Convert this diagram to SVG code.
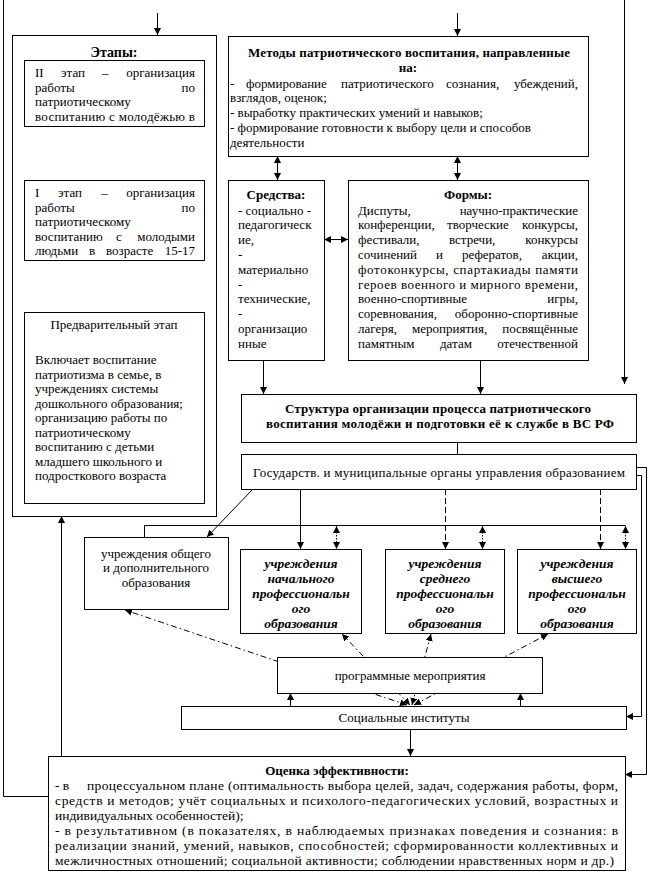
<svg xmlns="http://www.w3.org/2000/svg" width="650" height="879" viewBox="0 0 650 879">
<defs>
<style>
.b{fill:#fff;stroke:#000;stroke-width:1}
.l{fill:none;stroke:#000;stroke-width:1}
.dash{stroke-dasharray:6,3}
.dot{stroke-dasharray:1.5,1.5}
.dd{stroke-dasharray:6,3,1.5,3}
.ae{marker-end:url(#a)}
.ab{marker-start:url(#a);marker-end:url(#a)}
text{font-family:"Liberation Serif","Times New Roman",serif;font-size:13px;fill:#000}
.t{font-weight:bold}
.bi{font-weight:bold;font-style:italic;font-size:13.5px;text-anchor:middle}
.m{text-anchor:middle}
.e{text-anchor:end}
.o{font-size:13.5px}
</style>
<marker id="a" viewBox="0 0 10 10" refX="10" refY="5" markerWidth="7" markerHeight="7" markerUnits="userSpaceOnUse" orient="auto-start-reverse"><path d="M0,0 L10,5 L0,10 z" fill="#000"/></marker>
</defs>
<rect width="650" height="879" fill="#fff"/>

<g id="connectors">
<path class="l" d="M3.5,0 V796.5 H48"/>
<path class="l ae" d="M157.5,13 V35"/>
<path class="l ae" d="M457.5,13 V36"/>
<path class="l ae" d="M624.5,0 V384"/>
<path class="l ae" d="M108.5,180 V126"/>
<path class="l ae" d="M108.5,312 V260"/>
<path class="l ab" d="M277.5,156 V180"/>
<path class="l ab" d="M457.5,156 V180"/>
<path class="l ab" d="M324,239.5 H348"/>
<path class="l ae" d="M263.5,360 V394"/>
<path class="l ae" d="M480.5,360 V394"/>
<path class="l" d="M457.5,442 V454"/>
<path class="l ae" d="M252,490 L207,537"/>
<path class="l ae" d="M300.5,489 V549"/>
<path class="l dash ae" d="M445.5,489 V549"/>
<path class="l dash ae" d="M600.5,489 V549"/>
<path class="l" d="M144.5,537 V525.5 H625.5"/>
<path class="l dot ab" d="M336.5,526 V549"/>
<path class="l dot ab" d="M482.5,526 V549"/>
<path class="l dot ab" d="M625.5,526 V549"/>
<path class="l dd ab" d="M407,705 L125,610"/>
<path class="l dd ab" d="M410,705 L342,634"/>
<path class="l dd ab" d="M412,705 L431,634"/>
<path class="l dd ab" d="M414,705 L548,634"/>
<path class="l ae" d="M290.5,706 V693"/>
<path class="l ae" d="M520.5,706 V693"/>
<path class="l ae" d="M410.5,729 V756"/>
<path class="l ae" d="M636,467.5 H646.5 V774.5 H625"/>
<path class="l ae" d="M636,475.5 H641.5 V716.5 H626"/>
<path class="l ae" d="M61.5,756 V516"/>
</g>

<g id="etapy">
<rect class="b" x="12.5" y="35.5" width="204" height="481"/>
<text class="t m" x="114" y="57" style="font-size:14px">Этапы:</text>
</g>

<g id="etap2">
<rect class="b" x="24.5" y="60.5" width="180" height="66"/>
<text x="35" y="77">II</text><text x="61" y="77">этап</text><text x="102" y="77">–</text><text class="e" x="195" y="77">организация</text>
<text x="35" y="91.5">работы</text><text class="e" x="195" y="91.5">по</text>
<text x="35" y="106">патриотическому</text>
<text x="35" y="120.5" textLength="160" lengthAdjust="spacing">воспитанию с молодёжью в</text>
</g>

<g id="etap1">
<rect class="b" x="24.5" y="180.5" width="180" height="80"/>
<text x="35" y="197">I</text><text x="58" y="197">этап</text><text x="101" y="197">–</text><text class="e" x="195" y="197">организация</text>
<text x="35" y="211.5">работы</text><text class="e" x="195" y="211.5">по</text>
<text x="35" y="226">патриотическому</text>
<text x="35" y="240.5">воспитанию</text><text x="116" y="240.5">с</text><text class="e" x="195" y="240.5">молодыми</text>
<text x="35" y="255">людьми</text><text x="89" y="255">в</text><text x="106" y="255">возрасте</text><text class="e" x="195" y="255">15-17</text>
</g>

<g id="etap0">
<rect class="b" x="24.5" y="312.5" width="180" height="191"/>
<text class="m" x="114" y="329">Предварительный этап</text>
<text x="35" y="364">Включает воспитание</text>
<text x="35" y="378.5">патриотизма в семье, в</text>
<text x="35" y="393">учреждениях системы</text>
<text x="35" y="407.5">дошкольного образования;</text>
<text x="35" y="422">организацию работы по</text>
<text x="35" y="436.5">патриотическому</text>
<text x="35" y="451">воспитанию с  детьми</text>
<text x="35" y="465.5">младшего школьного и</text>
<text x="35" y="480">подросткового возраста</text>
</g>

<g id="metody">
<rect class="b" x="228.5" y="36.5" width="360" height="120"/>
<text class="t" x="248" y="56.5" textLength="322" lengthAdjust="spacing">Методы патриотического воспитания, направленные</text>
<text class="t m" x="408" y="71.5">на:</text>
<text x="230" y="87.5">-</text><text x="246" y="87.5">формирование</text><text x="341" y="87.5">патриотического</text><text x="446" y="87.5">сознания,</text><text class="e" x="578" y="87.5">убеждений,</text>
<text x="230" y="102">взглядов, оценок;</text>
<text x="230" y="117">-  выработку практических умений и навыков;</text>
<text x="230" y="132">- формирование готовности к выбору цели и способов</text>
<text x="230" y="147">деятельности</text>
</g>

<g id="sredstva">
<rect class="b" x="228.5" y="180.5" width="96" height="180"/>
<text class="t m" x="276" y="198.5">Средства:</text>
<text x="238" y="214.5">- социально -</text>
<text x="238" y="229.3">педагогическ</text>
<text x="238" y="244.1">ие,</text>
<text x="238" y="258.9">-</text>
<text x="238" y="273.7">материально</text>
<text x="238" y="288.5">-</text>
<text x="238" y="303.3">технические,</text>
<text x="238" y="318.1">-</text>
<text x="238" y="332.9">организацио</text>
<text x="238" y="347.7">нные</text>
</g>

<g id="formy">
<rect class="b" x="348.5" y="180.5" width="240" height="180"/>
<text class="t m" x="468" y="198.5">Формы:</text>
<text x="358" y="214.5">Диспуты,</text><text class="e" x="578" y="214.5">научно-практические</text>
<text x="358" y="229.3">конференции,</text><text x="447" y="229.3">творческие</text><text class="e" x="578" y="229.3">конкурсы,</text>
<text x="358" y="244.1">фестивали,</text><text x="449" y="244.1">встречи,</text><text class="e" x="578" y="244.1">конкурсы</text>
<text x="358" y="258.9">сочинений</text><text x="436" y="258.9">и</text><text x="462" y="258.9">рефератов,</text><text class="e" x="578" y="258.9">акции,</text>
<text x="358" y="273.7" textLength="220" lengthAdjust="spacing">фотоконкурсы, спартакиады памяти</text>
<text x="358" y="288.5" textLength="220" lengthAdjust="spacing">героев военного и мирного времени,</text>
<text x="358" y="303.3">военно-спортивные</text><text class="e" x="578" y="303.3">игры,</text>
<text x="358" y="318.1">соревнования,</text><text class="e" x="578" y="318.1">оборонно-спортивные</text>
<text x="358" y="332.9">лагеря,</text><text x="412" y="332.9">мероприятия,</text><text class="e" x="578" y="332.9">посвящённые</text>
<text x="358" y="347.7">памятным</text><text x="440" y="347.7">датам</text><text class="e" x="578" y="347.7">отечественной</text>
</g>

<g id="struktura">
<rect class="b" x="241.5" y="394.5" width="395" height="48"/>
<text class="t" x="285" y="412.5" textLength="306" lengthAdjust="spacing">Структура организации процесса патриотического</text>
<text class="t" x="266" y="427.5" textLength="348" lengthAdjust="spacing">воспитания молодёжи и подготовки её к службе в ВС РФ</text>
</g>

<g id="organy">
<rect class="b" x="241.5" y="454.5" width="395" height="35"/>
<text x="253" y="476.5" textLength="372" lengthAdjust="spacing">Государств. и муниципальные органы управления образованием</text>
</g>

<g id="obshchee">
<rect class="b" x="84.5" y="537.5" width="144" height="72"/>
<text class="m" x="156" y="557.5">учреждения общего</text>
<text class="m" x="156" y="571.5">и дополнительного</text>
<text class="m" x="156" y="586.5">образования</text>
</g>

<g id="nachalnoe">
<rect class="b" x="240.5" y="549.5" width="121" height="84"/>
<text class="bi" x="301" y="567.5">учреждения</text>
<text class="bi" x="301" y="582.7">начального</text>
<text class="bi" x="301" y="597.9">профессиональн</text>
<text class="bi" x="301" y="613.1">ого</text>
<text class="bi" x="301" y="628.3">образования</text>
</g>

<g id="srednee">
<rect class="b" x="385.5" y="549.5" width="119" height="84"/>
<text class="bi" x="445" y="567.5">учреждения</text>
<text class="bi" x="445" y="582.7">среднего</text>
<text class="bi" x="445" y="597.9">профессиональн</text>
<text class="bi" x="445" y="613.1">ого</text>
<text class="bi" x="445" y="628.3">образования</text>
</g>

<g id="vysshee">
<rect class="b" x="517.5" y="549.5" width="119" height="84"/>
<text class="bi" x="577" y="567.5">учреждения</text>
<text class="bi" x="577" y="582.7">высшего</text>
<text class="bi" x="577" y="597.9">профессиональн</text>
<text class="bi" x="577" y="613.1">ого</text>
<text class="bi" x="577" y="628.3">образования</text>
</g>

<g id="programmy">
<rect class="b" x="277.5" y="657.5" width="265" height="36"/>
<text class="m" x="410" y="679.5">программные мероприятия</text>
</g>

<g id="instituty">
<rect class="b" x="181.5" y="706.5" width="445" height="23"/>
<text class="m" x="404" y="722">Социальные институты</text>
</g>

<g id="ocenka">
<rect class="b" x="48.5" y="756.5" width="577" height="114"/>
<text class="t m" x="337" y="774.5">Оценка эффективности:</text>
<text class="o" x="55" y="789.5">- в</text><text class="o" x="87" y="789.5" textLength="531" lengthAdjust="spacing">процессуальном плане (оптимальность выбора целей, задач, содержания работы, форм,</text>
<text class="o" x="55" y="804.5" textLength="563" lengthAdjust="spacing">средств и методов; учёт социальных и психолого-педагогических условий, возрастных и</text>
<text class="o" x="55" y="819.5">индивидуальных особенностей);</text>
<text class="o" x="55" y="834.5" textLength="563" lengthAdjust="spacing">- в результативном (в показателях, в  наблюдаемых признаках поведения и сознания: в</text>
<text class="o" x="55" y="849.5" textLength="563" lengthAdjust="spacing">реализации знаний, умений, навыков, способностей; сформированности коллективных и</text>
<text class="o" x="55" y="864.5" textLength="559" lengthAdjust="spacing">межличностных отношений; социальной активности; соблюдении нравственных норм и др.)</text>
</g>
</svg>
